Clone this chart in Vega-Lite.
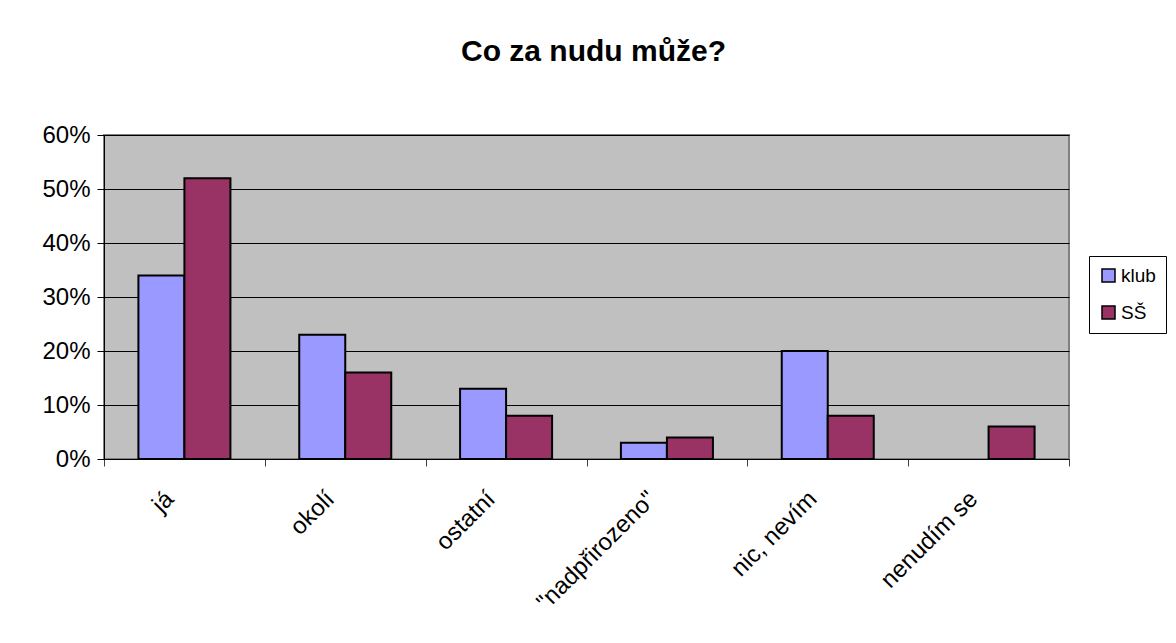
{
  "$schema": "https://vega.github.io/schema/vega-lite/v6.json",
  "autosize": {"type": "none"},
  "width": 965,
  "height": 324,
  "padding": {"left": 104, "top": 135, "right": 107, "bottom": 184},
  "background": "white",
  "title": {
    "text": "Co za nudu může?",
    "font": "Liberation Sans",
    "fontSize": 30,
    "fontWeight": "bold",
    "color": "black",
    "anchor": "middle",
    "baseline": "alphabetic",
    "offset": 32,
    "dx": 7
  },
  "data": {
    "values": [
      {"cat": "já", "group": "klub", "value": 0.34},
      {"cat": "já", "group": "SŠ", "value": 0.52},
      {"cat": "okolí", "group": "klub", "value": 0.23},
      {"cat": "okolí", "group": "SŠ", "value": 0.16},
      {"cat": "ostatní", "group": "klub", "value": 0.13},
      {"cat": "ostatní", "group": "SŠ", "value": 0.08},
      {"cat": "\"nadpřirozeno\"", "group": "klub", "value": 0.03},
      {"cat": "\"nadpřirozeno\"", "group": "SŠ", "value": 0.04},
      {"cat": "nic, nevím", "group": "klub", "value": 0.20},
      {"cat": "nic, nevím", "group": "SŠ", "value": 0.08},
      {"cat": "nenudím se", "group": "SŠ", "value": 0.06}
    ]
  },
  "mark": {"type": "bar", "stroke": "black", "strokeWidth": 2},
  "encoding": {
    "x": {
      "field": "cat",
      "type": "nominal",
      "sort": ["já", "okolí", "ostatní", "\"nadpřirozeno\"", "nic, nevím", "nenudím se"],
      "title": null,
      "scale": {"paddingInner": 0, "paddingOuter": 0},
      "axis": {
        "labelAngle": -45,
        "labelAlign": "right",
        "labelBaseline": "middle",
        "labelFont": "Liberation Sans",
        "labelFontSize": 24,
        "labelColor": "black",
        "labelPadding": 29,
        "labelOffset": -15,
        "labelBound": false,
        "labelOverlap": false,
        "tickBand": "extent",
        "tickSize": 7,
        "tickColor": "#404040",
        "domainColor": "black",
        "grid": false
      }
    },
    "xOffset": {"field": "group", "type": "nominal", "sort": ["klub", "SŠ"], "scale": {"domain": ["klub", "SŠ"], "paddingInner": 0, "paddingOuter": 0.748}},
    "y": {
      "field": "value",
      "type": "quantitative",
      "title": null,
      "scale": {"domain": [0, 0.6], "nice": false},
      "axis": {
        "format": ".0%",
        "values": [0, 0.1, 0.2, 0.3, 0.4, 0.5, 0.6],
        "labelFont": "Liberation Sans",
        "labelFontSize": 24,
        "labelColor": "black",
        "labelPadding": 7,
        "tickSize": 7,
        "tickColor": "black",
        "domainColor": "black",
        "gridColor": "black",
        "gridWidth": 1
      }
    },
    "fill": {
      "field": "group",
      "type": "nominal",
      "scale": {"domain": ["klub", "SŠ"], "range": ["#9999FF", "#993366"]},
      "legend": {
        "title": null,
        "orient": "none",
        "legendX": 985,
        "legendY": 121,
        "symbolType": "square",
        "symbolSize": 169,
        "symbolStrokeColor": "black",
        "symbolStrokeWidth": 1.5,
        "labelFont": "Liberation Sans",
        "labelFontSize": 19,
        "labelColor": "black",
        "labelOffset": 3,
        "rowPadding": 17,
        "padding": 10,
        "strokeColor": "black",
        "fillColor": "white"
      }
    }
  },
  "config": {
    "view": {"fill": "#C0C0C0", "stroke": "#808080", "strokeWidth": 2}
  }
}
